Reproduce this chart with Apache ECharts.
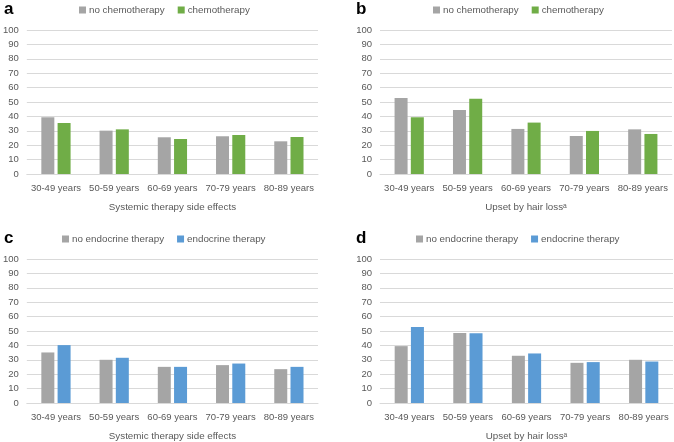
<!DOCTYPE html>
<html>
<head>
<meta charset="utf-8">
<script src="https://cdn.jsdelivr.net/npm/echarts@6/dist/echarts.min.js"></script>
<style>
  html, body { margin: 0; padding: 0; background: #fff; }
  #chart { width: 674px; height: 442px; }
</style>
</head>
<body>
<div id="chart"></div>
<script>
// categories
const ageGroups = ['30-49 years', '50-59 years', '60-69 years', '70-79 years', '80-89 years'];

// panel a / b : chemotherapy
const noChemoSide = [39.4, 30.1, 25.5, 26.2, 22.7];
const chemoSide = [35.4, 31.0, 24.3, 27.1, 25.7];
const noChemoHair = [52.7, 44.5, 31.3, 26.4, 31.0];
const chemoHair = [39.4, 52.2, 35.7, 29.9, 27.8];

// panel c / d : endocrine therapy
const noEndoSide = [35.1, 30.0, 25.1, 26.3, 23.5];
const endoSide = [40.2, 31.4, 25.1, 27.4, 25.1];
const noEndoHair = [39.5, 48.6, 32.8, 27.9, 30.0];
const endoHair = [52.8, 48.4, 34.4, 28.4, 28.8];

const panelLetters = ['a', 'b', 'c', 'd'];
const axisTitles = ['Systemic therapy side effects', 'Upset by hair loss\u1d43', 'Systemic therapy side effects', 'Upset by hair loss\u1d43'];
const chemoNames = ['no chemotherapy', 'chemotherapy'];
const endoNames = ['no endocrine therapy', 'endocrine therapy'];

const GRAY = '#A5A5A5';
const GREEN = '#70AD47';
const BLUE = '#5B9BD5';
const TEXT = '#595959';
const FONT = '"Liberation Sans", Arial, sans-serif';

const grids = [
  { left: 25, top: 30, width: 293, height: 144 },
  { left: 380, top: 30, width: 292, height: 144 },
  { left: 26, top: 259, width: 292, height: 144 },
  { left: 380, top: 259, width: 293, height: 144 }
];

const panels = [
  { names: chemoNames, data: [noChemoSide, chemoSide], colors: [GRAY, GREEN] },
  { names: chemoNames, data: [noChemoHair, chemoHair], colors: [GRAY, GREEN] },
  { names: endoNames, data: [noEndoSide, endoSide], colors: [GRAY, BLUE] },
  { names: endoNames, data: [noEndoHair, endoHair], colors: [GRAY, BLUE] }
];

// legend left edges and panel letter positions
const legendPos = [
  { left: 79, top: 5 },
  { left: 433, top: 5 },
  { left: 62, top: 234 },
  { left: 416, top: 234 }
];
const letterPos = [
  { left: 4, top: 1 },
  { left: 356, top: 1 },
  { left: 4, top: 230 },
  { left: 356, top: 230 }
];

const series = [];
panels.forEach((p, i) => {
  p.data.forEach((vals, j) => {
    series.push({
      name: p.names[j],
      type: 'bar',
      xAxisIndex: i,
      yAxisIndex: i,
      data: vals,
      barWidth: 13,
      barGap: '25%',
      itemStyle: { color: p.colors[j] }
    });
  });
});

const option = {
  animation: false,
  textStyle: { fontFamily: FONT },
  title: panelLetters.map((t, i) => ({
    text: t,
    left: letterPos[i].left,
    top: letterPos[i].top,
    padding: 0,
    textStyle: { fontSize: 17, fontWeight: 'bold', color: '#000', fontFamily: FONT }
  })),
  legend: panels.map((p, i) => ({
    data: p.names,
    left: legendPos[i].left,
    top: legendPos[i].top,
    padding: 0,
    icon: 'rect',
    itemWidth: 7,
    itemHeight: 7,
    itemGap: 13,
    selectedMode: false,
    textStyle: { fontSize: 9.8, color: TEXT, fontFamily: FONT, padding: [0, 0, 0, -2] }
  })),
  grid: grids,
  xAxis: grids.map((g, i) => ({
    type: 'category',
    gridIndex: i,
    data: ageGroups,
    name: axisTitles[i],
    nameLocation: 'middle',
    nameGap: 28,
    nameTextStyle: { fontSize: 9.8, color: TEXT, fontFamily: FONT },
    axisLine: { lineStyle: { color: '#D9D9D9' } },
    axisTick: { show: false },
    axisLabel: { fontSize: 9.5, color: TEXT, margin: 9, interval: 0 }
  })),
  yAxis: grids.map((g, i) => ({
    type: 'value',
    gridIndex: i,
    min: 0,
    max: 100,
    interval: 10,
    axisLine: { show: false },
    axisTick: { show: false },
    axisLabel: { fontSize: 9.5, color: TEXT, margin: 8 },
    splitLine: { lineStyle: { color: '#D9D9D9' } }
  })),
  series: series
};

const chart = echarts.init(document.getElementById('chart'), null, { renderer: 'canvas' });
chart.setOption(option);
</script>
</body>
</html>
